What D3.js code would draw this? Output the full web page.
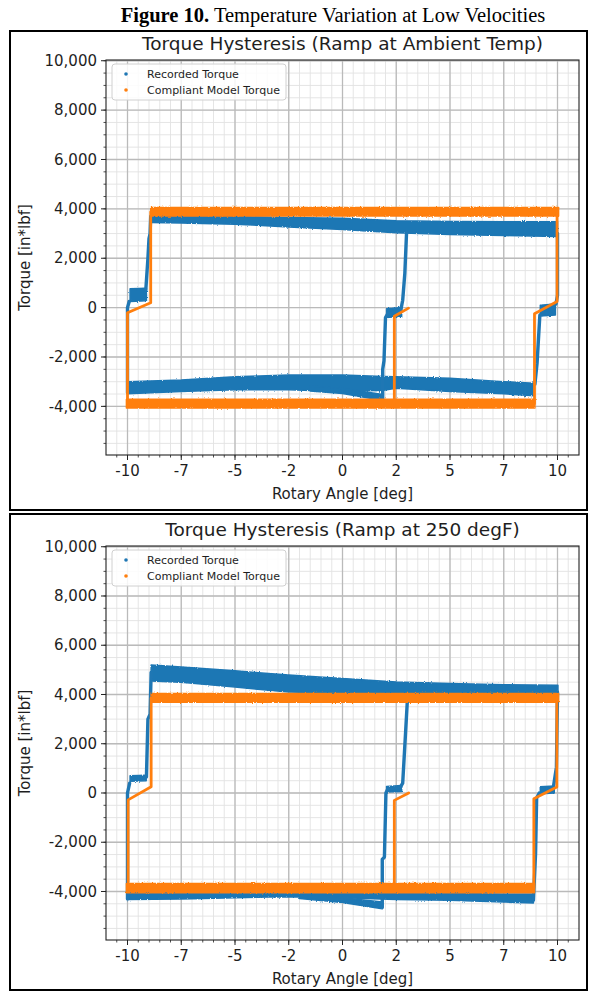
<!DOCTYPE html>
<html>
<head>
<meta charset="utf-8">
<script src="https://cdn.jsdelivr.net/npm/d3@7"></script>
<style>
  html, body { margin: 0; padding: 0; background: #fff; }
  svg { display: block; }
</style>
</head>
<body>
<svg id="fig" width="589" height="992"></svg>
<script>
// ---------------- DATA ----------------
const figureTitleBold = "Figure 10.";
const figureTitleRest = " Temperature Variation at Low Velocities";
const chartTitles = ["Torque Hysteresis (Ramp at Ambient Temp)", "Torque Hysteresis (Ramp at 250 degF)"];
const xLabel = "Rotary Angle [deg]";
const yLabel = "Torque [in*lbf]";
const seriesNames = ["Recorded Torque", "Compliant Model Torque"];

const xTicks = [-10, -7.5, -5, -2.5, 0, 2.5, 5, 7.5, 10];
const xTickLabels = ["-10", "-7", "-5", "-2", "0", "2", "5", "7", "10"];
const yTicks = [-4000, -2000, 0, 2000, 4000, 6000, 8000, 10000];
const yTickLabels = ["-4,000", "-2,000", "0", "2,000", "4,000", "6,000", "8,000", "10,000"];
const xDomain = [-11, 11];
const yDomain = [-5970, 10030];

// Chart 1 (ambient). Bands: [angle, lowTorque, highTorque]; paths: [angle, torque]
const ambientRecordedBands = [
  [[-8.92, 3450, 3760], [-7.5, 3430, 3720], [-5, 3380, 3690], [-2.5, 3270, 3650], [0, 3160, 3620], [2.5, 3030, 3520], [5, 2960, 3490], [7.5, 2920, 3480], [10.0, 2880, 3480]],
  [[-10.0, -3490, -3000], [-7.5, -3400, -2930], [-5, -3330, -2800], [-2.5, -3330, -2730], [0, -3400, -2730], [1.9, -3350, -2790], [2.5, -3270, -2800], [5, -3400, -2860], [7.5, -3490, -3000], [8.92, -3570, -3060]],
  [[-1.5, -3380, -3180], [0, -3480, -3280], [1.88, -3760, -3520]],
  [[-9.88, 250, 760], [-9.12, 280, 780]],
  [[2.05, -400, -50], [2.75, -350, 0]],
  [[9.2, -340, 100], [9.9, -300, 150]]
];
const ambientRecordedPaths = [
  [[-10.0, -3450], [-10.0, 0], [-9.92, 250]],
  [[-9.15, 700], [-9.05, 2000], [-9.0, 2800], [-8.95, 3000], [-8.92, 3700]],
  [[1.87, -3750], [1.87, -2500], [1.93, -2150], [2.0, -400], [2.1, -250], [2.7, -150], [2.8, 300], [2.9, 1400], [2.98, 3050]],
  [[10.0, 3000], [10.0, 500], [9.93, 150]],
  [[9.18, -300], [9.1, -1500], [9.05, -2250], [8.95, -3100]]
];
const ambientModelBands = [
  [[-8.92, 3710, 4060], [10.05, 3710, 4060]],
  [[-10.05, -4070, -3710], [8.95, -4070, -3710]]
];
const ambientModelPaths = [
  [[-10.0, -3890], [-10.0, -210], [-8.92, 200], [-8.92, 3880]],
  [[9.98, 3880], [9.98, 245], [8.93, -250], [8.93, -3890]],
  [[2.41, -3890], [2.41, -350], [3.07, -20]]
];

// Chart 2 (250 degF)
const hotRecordedBands = [
  [[-8.9, 4550, 5200], [-7.5, 4500, 5120], [-5, 4300, 4960], [-2.5, 4100, 4790], [0, 4050, 4650], [2.5, 4030, 4510], [5, 4030, 4450], [7.5, 4030, 4400], [10.02, 4030, 4380]],
  [[-10.0, -4330, -3980], [-7.5, -4300, -3980], [-5, -4250, -3930], [-2.5, -4210, -3890], [0, -4250, -3930], [2.5, -4330, -4040], [5, -4360, -4080], [7.5, -4430, -4100], [8.88, -4470, -4100]],
  [[-2.0, -4280, -4080], [0, -4450, -4250], [1.85, -4700, -4430]],
  [[-9.88, 480, 700], [-9.13, 500, 720]],
  [[2.05, 40, 260], [2.75, 60, 300]],
  [[9.2, -30, 250], [9.85, 0, 280]]
];
const hotRecordedPaths = [
  [[-10.0, -4300], [-10.0, 0], [-9.9, 400]],
  [[-9.12, 650], [-9.05, 3000], [-8.95, 3200], [-8.9, 4900]],
  [[1.85, -4650], [1.85, -2700], [1.95, -2600], [2.02, 0], [2.1, 150], [2.7, 250], [2.8, 400], [2.93, 2400], [3.02, 3800]],
  [[10.0, 4100], [9.95, 1050], [9.82, 300]],
  [[9.15, 0], [9.03, -200], [8.98, -2450], [8.88, -4350]]
];
const hotModelBands = [
  [[-8.9, 3680, 4040], [10.05, 3680, 4040]],
  [[-10.05, -4050, -3680], [8.93, -4050, -3680]]
];
const hotModelPaths = [
  [[-9.97, -3860], [-9.97, -280], [-8.9, 250], [-8.9, 3860]],
  [[9.97, 3860], [9.97, 245], [8.9, -230], [8.9, -3860]],
  [[2.41, -3860], [2.41, -300], [3.08, 0]]
];

// ---------------- LAYOUT / STYLE ----------------
const BLUE = "#1f77b4", ORANGE = "#ff7f0e";
const svg = d3.select("#fig");

// roughen edges of the dense scatter bands
const defs = svg.append("defs");
const flt = defs.append("filter").attr("id", "rough").attr("x", "-5%").attr("y", "-5%").attr("width", "110%").attr("height", "110%");
flt.append("feTurbulence").attr("type", "fractalNoise").attr("baseFrequency", 0.8).attr("numOctaves", 2).attr("seed", 3).attr("result", "n");
flt.append("feDisplacementMap").attr("in", "SourceGraphic").attr("in2", "n").attr("scale", 2.4)
  .attr("xChannelSelector", "R").attr("yChannelSelector", "G");

svg.append("text")
  .attr("x", 333).attr("y", 22).attr("text-anchor", "middle")
  .style("font-family", "'Liberation Serif','Times New Roman',serif")
  .style("font-size", "20.5px").attr("fill", "#000")
  .call(t => {
    t.append("tspan").attr("font-weight", "bold").text(figureTitleBold);
    t.append("tspan").text(figureTitleRest);
  });

const panels = [
  { box: [10, 31, 577, 479], plot: [106, 60, 579, 455], title: chartTitles[0],
    rb: ambientRecordedBands, rp: ambientRecordedPaths, mb: ambientModelBands, mp: ambientModelPaths },
  { box: [10, 514, 577, 476], plot: [106, 546, 579, 940], title: chartTitles[1],
    rb: hotRecordedBands, rp: hotRecordedPaths, mb: hotModelBands, mp: hotModelPaths }
];

const FONT = "'DejaVu Sans', sans-serif";
const TXT = "#1e1e1e";

panels.forEach((p, i) => {
  const [L, T, R, B] = p.plot;
  svg.append("rect").attr("x", p.box[0]).attr("y", p.box[1]).attr("width", p.box[2]).attr("height", p.box[3])
    .attr("fill", "none").attr("stroke", "#000").attr("stroke-width", 2);

  const x = d3.scaleLinear().domain(xDomain).range([L, R]);
  const y = d3.scaleLinear().domain(yDomain).range([B, T]);
  const g = svg.append("g");
  const clipId = "clip" + i;
  defs.append("clipPath").attr("id", clipId).append("rect")
    .attr("x", L).attr("y", T).attr("width", R - L).attr("height", B - T);

  // grid
  const xMinor = d3.range(-11, 11.001, 0.5).filter(v => v > xDomain[0] && v < xDomain[1]);
  const yMinor = d3.range(-6000, 10500, 500).filter(v => v > yDomain[0] && v < yDomain[1]);
  const grid = g.append("g").attr("clip-path", `url(#${clipId})`);
  grid.selectAll(".xmin").data(xMinor).join("line")
    .attr("x1", d => x(d)).attr("x2", d => x(d)).attr("y1", T).attr("y2", B)
    .attr("stroke", "#e2e2e2").attr("stroke-width", 0.9);
  grid.selectAll(".ymin").data(yMinor).join("line")
    .attr("y1", d => y(d)).attr("y2", d => y(d)).attr("x1", L).attr("x2", R)
    .attr("stroke", "#e2e2e2").attr("stroke-width", 0.9);
  grid.selectAll(".xmaj").data(xTicks).join("line")
    .attr("x1", d => x(d)).attr("x2", d => x(d)).attr("y1", T).attr("y2", B)
    .attr("stroke", "#bababa").attr("stroke-width", 1.3);
  grid.selectAll(".ymaj").data(yTicks).join("line")
    .attr("y1", d => y(d)).attr("y2", d => y(d)).attr("x1", L).attr("x2", R)
    .attr("stroke", "#bababa").attr("stroke-width", 1.3);

  // data
  const data = g.append("g").attr("clip-path", `url(#${clipId})`);
  const area = d3.area().x(d => x(d[0])).y0(d => y(d[1])).y1(d => y(d[2]));
  const line = d3.line().x(d => x(d[0])).y(d => y(d[1]));
  function drawBands(bands, color) {
    data.append("g").attr("filter", "url(#rough)").selectAll("path").data(bands).join("path")
      .attr("d", area).attr("fill", color).attr("stroke", color).attr("stroke-width", 1.5)
      .attr("stroke-linejoin", "round");
  }
  function drawPaths(paths, color, w) {
    data.append("g").selectAll("path").data(paths).join("path")
      .attr("d", line).attr("fill", "none").attr("stroke", color).attr("stroke-width", w)
      .attr("stroke-linejoin", "round").attr("stroke-linecap", "round");
  }
  drawBands(p.rb, BLUE);
  drawPaths(p.rp, BLUE, 3.4);
  drawBands(p.mb, ORANGE);
  drawPaths(p.mp, ORANGE, 2.8);

  // spines
  g.append("rect").attr("x", L).attr("y", T).attr("width", R - L).attr("height", B - T)
    .attr("fill", "none").attr("stroke", "#222").attr("stroke-width", 1.1);

  // ticks
  const ax = g.append("g");
  ax.selectAll(".xmt").data(xMinor).join("line")
    .attr("x1", d => x(d)).attr("x2", d => x(d)).attr("y1", B).attr("y2", B + 2.5)
    .attr("stroke", "#222").attr("stroke-width", 0.8);
  ax.selectAll(".xMt").data(xTicks).join("line")
    .attr("x1", d => x(d)).attr("x2", d => x(d)).attr("y1", B).attr("y2", B + 5)
    .attr("stroke", "#222").attr("stroke-width", 1);
  ax.selectAll(".ymt").data(yMinor).join("line")
    .attr("y1", d => y(d)).attr("y2", d => y(d)).attr("x1", L).attr("x2", L - 2.5)
    .attr("stroke", "#222").attr("stroke-width", 0.8);
  ax.selectAll(".yMt").data(yTicks).join("line")
    .attr("y1", d => y(d)).attr("y2", d => y(d)).attr("x1", L).attr("x2", L - 5)
    .attr("stroke", "#222").attr("stroke-width", 1);

  ax.selectAll(".xl").data(xTicks).join("text")
    .attr("x", d => x(d)).attr("y", B + 21).attr("text-anchor", "middle")
    .style("font-family", FONT).style("font-size", "15px").attr("fill", TXT)
    .text((d, k) => xTickLabels[k]);
  ax.selectAll(".yl").data(yTicks).join("text")
    .attr("x", L - 9).attr("y", d => y(d) + 5.2).attr("text-anchor", "end")
    .style("font-family", FONT).style("font-size", "15px").attr("fill", TXT)
    .text((d, k) => yTickLabels[k]);

  // labels
  g.append("text").attr("x", (L + R) / 2).attr("y", B + 44).attr("text-anchor", "middle")
    .style("font-family", FONT).style("font-size", "15px").attr("fill", TXT).text(xLabel);
  g.append("text").attr("transform", `translate(30,${(T + B) / 2}) rotate(-90)`)
    .attr("text-anchor", "middle")
    .style("font-family", FONT).style("font-size", "15px").attr("fill", TXT).text(yLabel);
  g.append("text").attr("x", (L + R) / 2).attr("y", T - 10).attr("text-anchor", "middle")
    .style("font-family", FONT).style("font-size", "18.5px").attr("fill", TXT).text(p.title);

  // legend
  const lg = g.append("g").attr("transform", `translate(${L + 6},${T + 4})`);
  lg.append("rect").attr("x", 0).attr("y", 0).attr("width", 174).attr("height", 36).attr("rx", 3)
    .attr("fill", "#fff").attr("fill-opacity", 0.85).attr("stroke", "#d0d0d0").attr("stroke-width", 1);
  [BLUE, ORANGE].forEach((c, k) => {
    lg.append("circle").attr("cx", 14).attr("cy", 10 + k * 16).attr("r", 1.8).attr("fill", c);
    lg.append("text").attr("x", 35).attr("y", 13.8 + k * 16)
      .style("font-family", FONT).style("font-size", "11px").attr("fill", TXT).text(seriesNames[k]);
  });
});
</script>
</body>
</html>
